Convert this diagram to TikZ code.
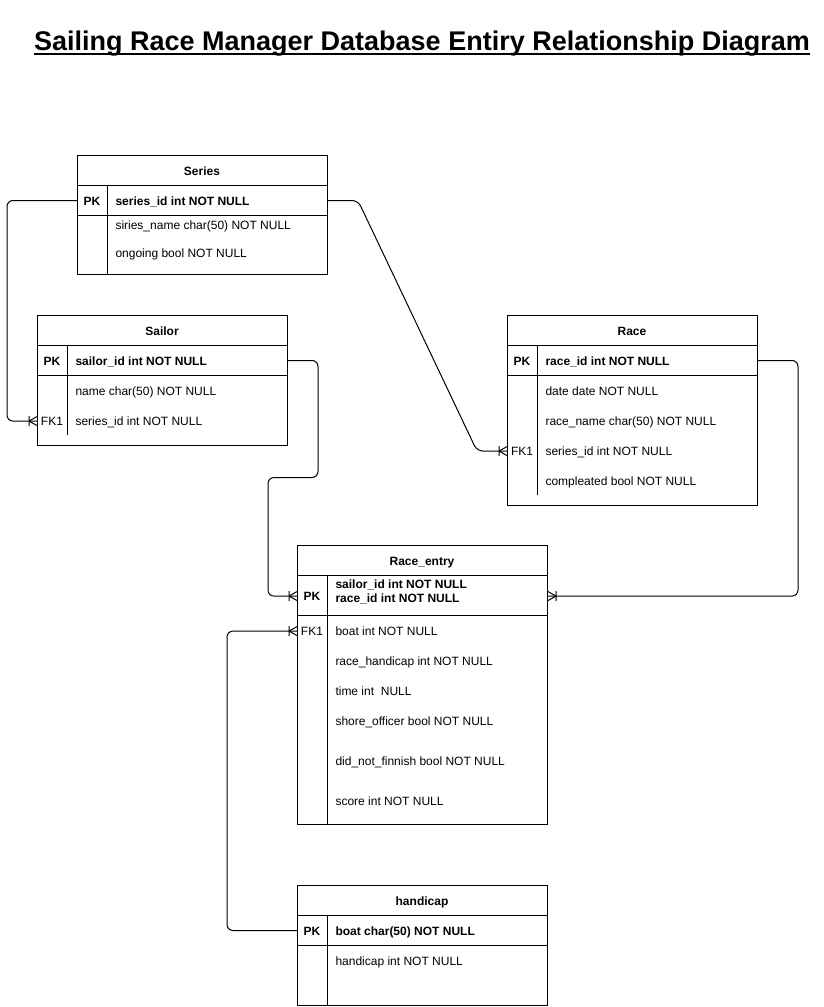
\documentclass[tikz,border=0pt]{standalone}
\usepackage{fontspec}
\setmainfont{Liberation Sans}
\usetikzlibrary{calc}
\begin{document}
\begin{tikzpicture}[x=1pt,y=-1pt,line width=1pt,
  tbl/.style={draw,anchor=north west,inner sep=0pt,minimum width=250pt},
  band/.style={draw,anchor=north west,inner sep=0pt,minimum width=250pt,minimum height=30pt},
  hdr/.style={font=\fontsize{12}{14}\selectfont\bfseries,inner sep=0pt,anchor=base},
  keyl/.style={font=\fontsize{12}{14}\selectfont\bfseries,inner sep=0pt,anchor=base},
  fkl/.style={font=\fontsize{12}{14}\selectfont,inner sep=0pt,anchor=base},
  fld/.style={font=\fontsize{12}{14}\selectfont,inner sep=0pt,anchor=base west},
  fldb/.style={font=\fontsize{12}{14}\selectfont\bfseries,inner sep=0pt,anchor=base west},
  rel/.style={draw,line width=1pt,rounded corners=6pt},
  crowfoot/.pic={\draw[line width=1pt] (-8,-5) -- (-8,5) (-8,0) -- (0,-4.5) (-8,0) -- (0,4.5);}
]
\useasboundingbox (0,0) rectangle (823,1007);

% Title
\node[font=\fontsize{27}{32}\selectfont\bfseries,inner sep=0pt,anchor=base] (title) at (422,50.5) {Sailing Race Manager Database Entiry Relationship Diagram};
\draw[line width=2pt] ($(title.base west)+(0,3.5)$) -- ($(title.base east)+(0,3.5)$);

% Series
\node[tbl,minimum height=119pt] (series) at (77,155) {};
\node[band] (seriespk) at (77,185) {};
\draw (107,185) -- (107,274);
\node[hdr] (seriest) at (202,175.2) {Series};
\node[keyl] (seriespkl) at (92,205.2) {PK};
\node[fldb] (seriesf0) at (115,205.2) {series\_id int NOT NULL};
\node[fld] (seriesf1) at (115,229.2) {siries\_name char(50) NOT NULL};
\node[fld] (seriesf2) at (115,257.2) {ongoing bool NOT NULL};

% Sailor
\node[tbl,minimum height=130pt] (sailor) at (37,315) {};
\node[band] (sailorpk) at (37,345) {};
\draw (67,345) -- (67,435);
\node[hdr] (sailort) at (162,335.2) {Sailor};
\node[keyl] (sailorpkl) at (52,365.2) {PK};
\node[fldb] (sailorf0) at (75,365.2) {sailor\_id int NOT NULL};
\node[fld] (sailorf1) at (75,395.2) {name char(50) NOT NULL};
\node[fkl] (sailorfk) at (52,425.2) {FK1};
\node[fld] (sailorf2) at (75,425.2) {series\_id int NOT NULL};

% Race
\node[tbl,minimum height=190pt] (race) at (507,315) {};
\node[band] (racepk) at (507,345) {};
\draw (537,345) -- (537,495);
\node[hdr] (racet) at (632,335.2) {Race};
\node[keyl] (racepkl) at (522,365.2) {PK};
\node[fldb] (racef0) at (545,365.2) {race\_id int NOT NULL};
\node[fld] (racef1) at (545,395.2) {date date NOT NULL};
\node[fld] (racef2) at (545,425.2) {race\_name char(50) NOT NULL};
\node[fkl] (racefk) at (522,455.2) {FK1};
\node[fld] (racef3) at (545,455.2) {series\_id int NOT NULL};
\node[fld] (racef4) at (545,485.2) {compleated bool NOT NULL};

% Race_entry
\node[tbl,minimum height=279pt] (re) at (297,545) {};
\node[band,minimum height=40pt] (repkband) at (297,575) {};
\draw (327,575) -- (327,824);
\node[hdr] (ret) at (422,565.2) {Race\_entry};
\node[keyl] (repk) at (312,600.2) {PK};
\node[fldb] (ref0) at (335,588.2) {sailor\_id int NOT NULL};
\node[fldb] (ref1) at (335,602.2) {race\_id int NOT NULL};
\node[fkl] (refk) at (312,635.2) {FK1};
\node[fld] (ref2) at (335,635.2) {boat int NOT NULL};
\node[fld] (ref3) at (335,665.2) {race\_handicap int NOT NULL};
\node[fld] (ref4) at (335,695.2) {time int\ \ NULL};
\node[fld] (ref5) at (335,725.2) {shore\_officer bool NOT NULL};
\node[fld] (ref6) at (335,765.2) {did\_not\_finnish bool NOT NULL};
\node[fld] (ref7) at (335,805.2) {score int NOT NULL};

% handicap
\node[tbl,minimum height=120pt] (hc) at (297,885) {};
\node[band] (hcpk) at (297,915) {};
\draw (327,915) -- (327,1005);
\node[hdr] (hct) at (422,905.2) {handicap};
\node[keyl] (hcpkl) at (312,935.2) {PK};
\node[fldb] (hcf0) at (335,935.2) {boat char(50) NOT NULL};
\node[fld] (hcf1) at (335,965.2) {handicap int NOT NULL};

% Relationships
\draw[rel] (seriespk.west) -- ++(-70,0) |- (sailorfk -| sailor.west);
\pic at (sailorfk -| sailor.west) {crowfoot};

\draw[rel] (seriespk.east) -- ++(30,0) -- ($(racefk -| race.west)+(-30,0)$) -- (racefk -| race.west);
\pic at (racefk -| race.west) {crowfoot};

\draw[rel] (sailorpk.east) -- ++(30,0) -- ++(0,117) -- ++(-50,0) |- (repk -| re.west);
\pic at (repk -| re.west) {crowfoot};

\draw[rel] (racepk.east) -- ++(40,0) |- (repk -| re.east);
\pic[rotate=180] at (repk -| re.east) {crowfoot};

\draw[rel] (hcpk.west) -- ++(-70,0) |- (refk -| re.west);
\pic at (refk -| re.west) {crowfoot};
\end{tikzpicture}
\end{document}
